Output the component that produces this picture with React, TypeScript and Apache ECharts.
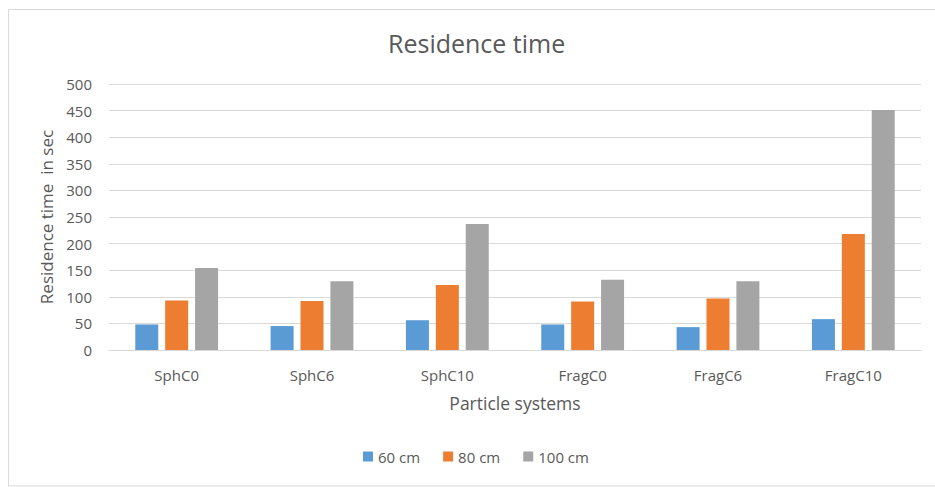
import React, { useEffect, useRef } from "react";
import * as echarts from "echarts";

const categories = ["SphC0", "SphC6", "SphC10", "FragC0", "FragC6", "FragC10"];
const series60 = [48, 45, 56, 48, 43, 58];
const series80 = [93, 92, 122, 91, 97, 218];
const series100 = [154, 129, 237, 132, 129, 451];
const seriesNames = ["60 cm", "80 cm", "100 cm"];
const colors = ["#5B9BD5", "#ED7D31", "#A5A5A5"];

const FONT = "Open Sans";
const TXT = "#595959";

export default function App() {
  const ref = useRef<HTMLDivElement>(null);
  useEffect(() => {
    if (!ref.current) return;
    const chart = echarts.init(ref.current, undefined, { renderer: "svg" });
    const data = [series60, series80, series100];
    chart.setOption({
      animation: false,
      textStyle: { fontFamily: FONT },
      title: {
        text: "Residence time",
        left: 383,
        top: 25,
        textStyle: { fontFamily: FONT, fontSize: 25, fontWeight: "normal", color: TXT },
      },
      graphic: [
        {
          type: "rect",
          shape: { x: 8.5, y: 9.5, width: 940, height: 476.5 },
          style: { fill: "none", stroke: "#d9d9d9", lineWidth: 1 },
          silent: true,
        },
      ],
      legend: {
        bottom: 18,
        left: 358,
        itemWidth: 10,
        itemHeight: 10,
        itemGap: 23,
        icon: "rect",
        textStyle: { fontFamily: FONT, fontSize: 15, color: TXT },
        data: seriesNames,
      },
      grid: { left: 109, right: 14, top: 84, bottom: 137, containLabel: false },
      xAxis: {
        type: "category",
        data: categories,
        name: "Particle systems",
        nameLocation: "middle",
        nameGap: 44,
        nameTextStyle: { fontFamily: FONT, fontSize: 17.5, color: TXT },
        axisLine: { lineStyle: { color: "#d9d9d9" } },
        axisTick: { show: false },
        axisLabel: { fontFamily: FONT, fontSize: 15, color: TXT, margin: 17 },
      },
      yAxis: {
        type: "value",
        min: 0,
        max: 500,
        interval: 50,
        name: "Residence time  in sec",
        nameLocation: "middle",
        nameGap: 54,
        nameRotate: 90,
        nameTextStyle: { fontFamily: FONT, fontSize: 17, color: TXT },
        axisLine: { show: false },
        axisTick: { show: false },
        splitLine: { lineStyle: { color: "#d9d9d9" } },
        axisLabel: { fontFamily: FONT, fontSize: 15, color: TXT, margin: 17 },
      },
      series: seriesNames.map((n, i) => ({
        name: n,
        type: "bar",
        data: data[i],
        barWidth: 23,
        barGap: "30%",
        itemStyle: { color: colors[i] },
      })),
    });
    return () => chart.dispose();
  }, []);
  return (
    <div
      ref={ref}
      style={{ position: "absolute", left: 0, top: 0, width: 935, height: 487, background: "#fff" }}
    />
  );
}
